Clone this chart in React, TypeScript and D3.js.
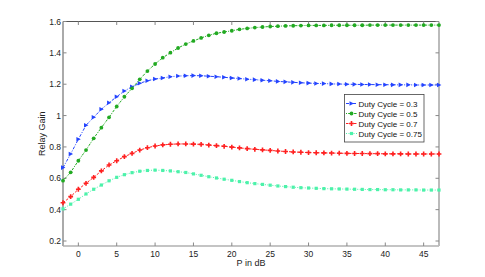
import * as d3 from "d3";

// P in dB, one sample per dB
const pDb = d3.range(-2, 48);

const gain03 = [
  0.668, 0.755, 0.849, 0.938, 0.989, 1.04, 1.082, 1.12, 1.157, 1.184, 1.206, 1.222, 1.233,
  1.24, 1.248, 1.252, 1.254, 1.255, 1.254, 1.251, 1.248, 1.244, 1.24, 1.236, 1.232, 1.229,
  1.225, 1.222, 1.218, 1.215, 1.212, 1.209, 1.207, 1.205, 1.204, 1.202, 1.201, 1.2, 1.199,
  1.198, 1.198, 1.197, 1.197, 1.196, 1.196, 1.196, 1.195, 1.195, 1.195, 1.195,
];
const gain05 = [
  0.585, 0.638, 0.712, 0.78, 0.855, 0.923, 0.989, 1.058, 1.12, 1.174, 1.231, 1.284, 1.329,
  1.369, 1.401, 1.431, 1.456, 1.476, 1.495, 1.512, 1.525, 1.533, 1.541, 1.55, 1.556, 1.561,
  1.565, 1.568, 1.57, 1.572, 1.573, 1.574, 1.575, 1.575, 1.575, 1.576, 1.576, 1.576, 1.576,
  1.576, 1.577, 1.577, 1.577, 1.577, 1.577, 1.577, 1.577, 1.577, 1.577, 1.577,
];
const gain07 = [
  0.444, 0.483, 0.53, 0.568, 0.606, 0.647, 0.685, 0.712, 0.738, 0.759, 0.78, 0.795, 0.806,
  0.813, 0.817, 0.819, 0.819, 0.818, 0.816, 0.812, 0.808, 0.804, 0.799, 0.794, 0.789, 0.785,
  0.781, 0.778, 0.774, 0.771, 0.768, 0.766, 0.764, 0.763, 0.762, 0.761, 0.76, 0.759, 0.758,
  0.758, 0.757, 0.757, 0.756, 0.756, 0.756, 0.755, 0.755, 0.755, 0.755, 0.755,
];
const gain075 = [
  0.405, 0.435, 0.466, 0.5, 0.53, 0.557, 0.584, 0.606, 0.623, 0.636, 0.645, 0.65, 0.652,
  0.65, 0.647, 0.642, 0.637, 0.628, 0.619, 0.61, 0.602, 0.594, 0.587, 0.579, 0.572, 0.566,
  0.561, 0.556, 0.551, 0.547, 0.543, 0.54, 0.538, 0.536, 0.534, 0.533, 0.532, 0.531, 0.53,
  0.529, 0.528, 0.528, 0.527, 0.527, 0.526, 0.526, 0.526, 0.525, 0.525, 0.525,
];

const seriesNames = ["Duty Cycle = 0.3", "Duty Cycle = 0.5", "Duty Cycle = 0.7", "Duty Cycle = 0.75"];
const xTicks = [0, 5, 10, 15, 20, 25, 30, 35, 40, 45];
const yTicks = [0.2, 0.4, 0.6, 0.8, 1, 1.2, 1.4, 1.6];

const styles = [
  { color: "#2444ff", dash: "3,1.5,1,1.5", marker: "tri" },
  { color: "#22aa22", dash: "1,1.2,2.5,1.2", marker: "dot" },
  { color: "#ff2020", dash: "2.5,1.5", marker: "plus" },
  { color: "#4cf2aa", dash: "1,1.5", marker: "square" },
];

const W = 485;
const H = 277;
const left = 63;
const right = 439;
const top = 21.5;
const bottom = 246;
const font = "Liberation Sans, Arial, Helvetica, sans-serif";

function Marker({ kind, cx, cy, color }: { kind: string; cx: number; cy: number; color: string }) {
  if (kind === "tri")
    return <path d={`M${cx - 2},${cy - 2.3}L${cx + 2.4},${cy}L${cx - 2},${cy + 2.3}Z`} fill={color} />;
  if (kind === "dot") return <circle cx={cx} cy={cy} r={1.9} fill={color} />;
  if (kind === "plus")
    return (
      <path
        d={`M${cx - 2.4},${cy}H${cx + 2.4}M${cx},${cy - 2.4}V${cy + 2.4}`}
        stroke={color}
        strokeWidth={1.6}
      />
    );
  return <rect x={cx - 1.6} y={cy - 1.6} width={3.2} height={3.2} fill={color} />;
}

export default function App() {
  const x = d3.scaleLinear().domain([-2, 47]).range([left, right]);
  const y = d3.scaleLinear().domain([0.2, 1.6]).range([241, top]);
  const all = [gain03, gain05, gain07, gain075];

  const line = d3
    .line<number>()
    .x((_, i) => x(pDb[i]))
    .y((d) => y(d));

  const lx = 344.5;
  const ly = 94.5;
  const rowY = [103.5, 113.5, 123.5, 133.5];

  return (
    <svg
      width={W}
      height={H}
      style={{ position: "absolute", left: 0, top: 0, background: "#fff" }}
      fontFamily={font}
    >
      {/* axes box */}
      <line x1={left} x2={right} y1={top} y2={top} stroke="#555" strokeWidth={1} />
      <line x1={left} x2={right} y1={bottom} y2={bottom} stroke="#8a8a8a" strokeWidth={1.2} />
      <line x1={left} x2={left} y1={top} y2={bottom} stroke="#aaa" strokeWidth={2} />
      <line x1={right} x2={right} y1={top} y2={bottom} stroke="#bbb" strokeWidth={2} />

      {xTicks.map((t) => (
        <g key={"x" + t}>
          <line x1={x(t)} x2={x(t)} y1={bottom} y2={bottom - 3.5} stroke="#888" />
          <line x1={x(t)} x2={x(t)} y1={top} y2={top + 3.5} stroke="#888" />
          <text x={x(t)} y={257} fontSize={8.5} textAnchor="middle" fill="#222">
            {t}
          </text>
        </g>
      ))}
      {yTicks.map((t) => (
        <g key={"y" + t}>
          <line x1={left} x2={left + 3.5} y1={y(t)} y2={y(t)} stroke="#888" />
          <line x1={right} x2={right - 3.5} y1={y(t)} y2={y(t)} stroke="#888" />
          <text x={61} y={y(t) + 3} fontSize={8.5} textAnchor="end" fill="#222">
            {String(t)}
          </text>
        </g>
      ))}

      <text x={251} y={266} fontSize={9} textAnchor="middle" fill="#222">
        P in dB
      </text>
      <text
        transform={`translate(45,${(top + bottom) / 2}) rotate(-90)`}
        fontSize={9}
        textAnchor="middle"
        fill="#222"
      >
        Relay Gain
      </text>

      {all.map((s, k) => (
        <g key={"s" + k}>
          <path d={line(s) ?? ""} fill="none" stroke={styles[k].color} strokeWidth={1} strokeDasharray={styles[k].dash} />
          {s.map((v, i) => (
            <Marker key={i} kind={styles[k].marker} cx={x(pDb[i])} cy={y(v)} color={styles[k].color} />
          ))}
        </g>
      ))}

      {/* legend */}
      <rect x={lx} y={ly} width={79.5} height={47.5} fill="#fff" stroke="#444" strokeWidth={0.8} />
      {seriesNames.map((n, k) => (
        <g key={n}>
          <line x1={346} x2={357} y1={rowY[k]} y2={rowY[k]} stroke={styles[k].color} strokeWidth={1} strokeDasharray={styles[k].dash} />
          <Marker kind={styles[k].marker} cx={351.5} cy={rowY[k]} color={styles[k].color} />
          <text x={358.5} y={rowY[k] + 3} fontSize={8} fill="#111">
            {n}
          </text>
        </g>
      ))}
    </svg>
  );
}
